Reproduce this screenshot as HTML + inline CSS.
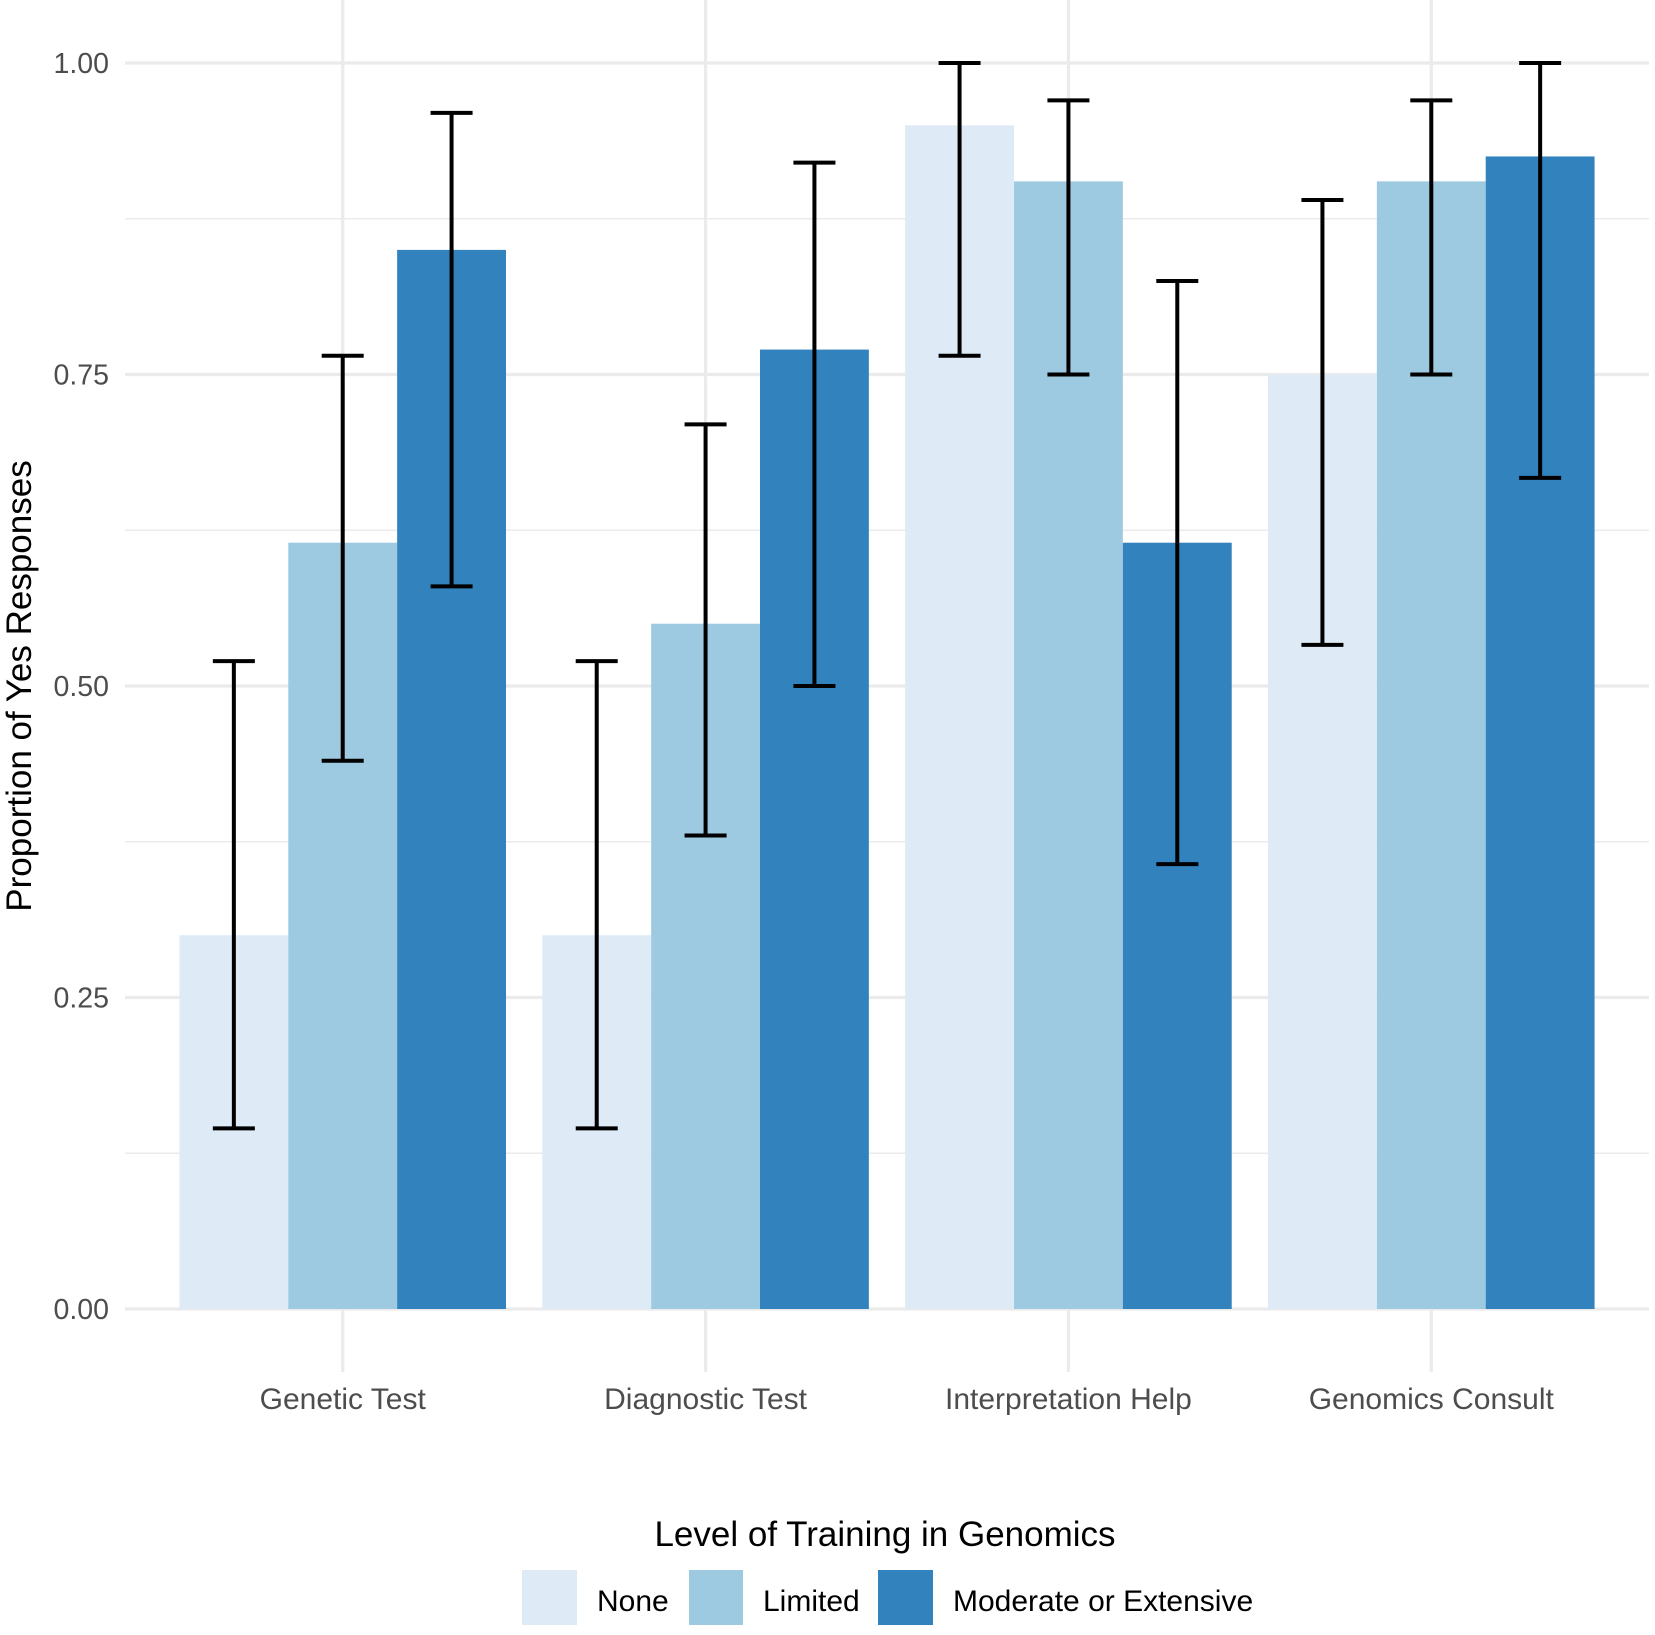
<!DOCTYPE html>
<html><head><meta charset="utf-8"><style>
html,body{margin:0;padding:0;background:#fff;}
svg{display:block;font-family:"Liberation Sans",sans-serif;}
</style></head><body>
<svg id="chart" width="1655" height="1635" viewBox="0 0 1655 1635">
<g id="grid"></g>
<g id="bars"></g>
<g id="errs"></g>
<g id="yticks"></g>
<g id="xticks"></g>
<text transform="translate(31,686) rotate(-90)" text-anchor="middle" font-size="35" fill="#000">Proportion of Yes Responses</text>
<g>
<text x="885" y="1546" text-anchor="middle" font-size="35" fill="#000">Level of Training in Genomics</text>
<rect x="522" y="1570" width="55" height="55" fill="#deebf7"/>
<text x="597" y="1611" font-size="30" fill="#000">None</text>
<rect x="689" y="1570" width="54" height="55" fill="#9ecae1"/>
<text x="763" y="1611" font-size="30" fill="#000">Limited</text>
<rect x="878" y="1570" width="55" height="55" fill="#3182bd"/>
<text x="953" y="1611" font-size="30" fill="#000">Moderate or Extensive</text>
</g>
</svg>
<script>
const categories = ["Genetic Test","Diagnostic Test","Interpretation Help","Genomics Consult"];
const seriesNames = ["None","Limited","Moderate or Extensive"];
const noneVals = [0.30,0.30,0.95,0.75];
const limitedVals = [0.615,0.55,0.905,0.905];
const modVals = [0.85,0.77,0.615,0.925];
const noneLo = [0.145,0.145,0.765,0.533];
const noneHi = [0.52,0.52,1.0,0.89];
const limitedLo = [0.44,0.38,0.75,0.75];
const limitedHi = [0.765,0.71,0.97,0.97];
const modLo = [0.58,0.50,0.357,0.667];
const modHi = [0.96,0.92,0.825,1.0];
const yTicks = [0,0.25,0.5,0.75,1.0];
const yTickLabels = ["0.00","0.25","0.50","0.75","1.00"];

const NS="http://www.w3.org/2000/svg";
const colors=["#deebf7","#9ecae1","#3182bd"];
const x0=125,x1=1649,yTop=0,yBot=1372;
const y=v=>1309-(1309-63)*v;
const unit=(x1-x0)/(categories.length+0.2);
const cx=i=>x0+unit*(0.6+i);
const bw=unit*0.9/3;
function mk(tag,attrs,parent){const e=document.createElementNS(NS,tag);for(const k in attrs)e.setAttribute(k,attrs[k]);parent.appendChild(e);return e;}
const grid=document.getElementById('grid');
for(let i=0;i<yTicks.length-1;i++){
  const l=mk('line',{x1:x0,x2:x1,y1:y((yTicks[i]+yTicks[i+1])/2),y2:y((yTicks[i]+yTicks[i+1])/2),stroke:'#ebebeb','stroke-width':1.6},grid);
  
  
}
yTicks.forEach((t,k)=>{
  const l=mk('line',{x1:x0,x2:x1,y1:y(t),y2:y(t),stroke:'#ebebeb','stroke-width':3.2},grid);
  
  
  const tx=mk('text',{x:109,y:y(t)+10,'text-anchor':'end','font-size':28.5,fill:'#4d4d4d'},document.getElementById('yticks'));
  tx.textContent=yTickLabels[k];
  
  
});
categories.forEach((c,i)=>{
  const l=mk('line',{x1:cx(i),x2:cx(i),y1:yTop,y2:yBot,stroke:'#ebebeb','stroke-width':3.2},grid);
  
  
  const tx=mk('text',{x:cx(i),y:1409,'text-anchor':'middle','font-size':30,fill:'#4d4d4d'},document.getElementById('xticks'));
  tx.textContent=c;
  
  
});
const vals=[noneVals,limitedVals,modVals],los=[noneLo,limitedLo,modLo],his=[noneHi,limitedHi,modHi];
const bars=document.getElementById('bars'),errs=document.getElementById('errs');
categories.forEach((c,i)=>{
  for(let s=0;s<3;s++){
    const left=cx(i)-1.5*bw+s*bw;
    const r=mk('rect',{x:left,y:y(vals[s][i]),width:bw,height:y(0)-y(vals[s][i]),fill:colors[s]},bars);
    
    
    const m=left+bw/2,hw=21;
    const g=mk('g',{stroke:'#000','stroke-width':4,fill:'none'},errs);
    
    
    mk('line',{x1:m,x2:m,y1:y(los[s][i]),y2:y(his[s][i])},g);
    mk('line',{x1:m-hw,x2:m+hw,y1:y(los[s][i]),y2:y(los[s][i])},g);
    mk('line',{x1:m-hw,x2:m+hw,y1:y(his[s][i]),y2:y(his[s][i])},g);
  }
});
</script>
</body></html>
